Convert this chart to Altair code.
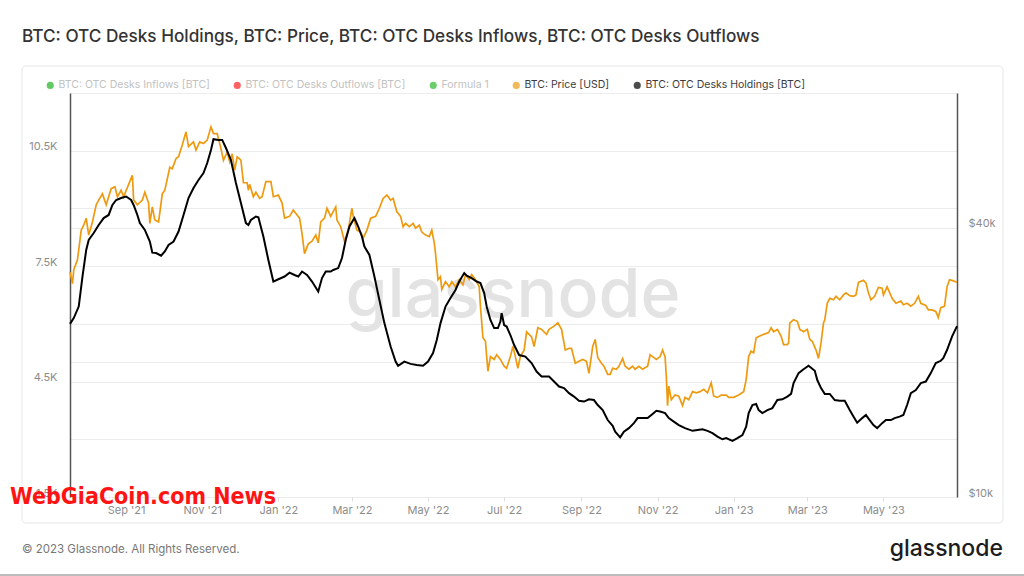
import json
import altair as alt
import pandas as pd

TITLE = "BTC: OTC Desks Holdings, BTC: Price, BTC: OTC Desks Inflows, BTC: OTC Desks Outflows"
COPYRIGHT = "© 2023 Glassnode. All Rights Reserved."
BRAND = "glassnode"
OVERLAY = "WebGiaCoin.com News"

SERIES = [
    "BTC: OTC Desks Inflows [BTC]",
    "BTC: OTC Desks Outflows [BTC]",
    "Formula 1",
    "BTC: Price [USD]",
    "BTC: OTC Desks Holdings [BTC]",
]
SERIES_COLORS = ["#1fb31f", "#ff2020", "#2db82d", "#ee9a10", "#000000"]
ACTIVE_SERIES = ["BTC: Price [USD]", "BTC: OTC Desks Holdings [BTC]"]

X_TICKS = [(2021, 9), (2021, 11), (2022, 1), (2022, 3), (2022, 5), (2022, 7),
           (2022, 9), (2022, 11), (2023, 1), (2023, 3), (2023, 5)]
HOLDINGS_TICKS = [1500, 3000, 4500, 6000, 7500, 9000, 10500, 12000]
PRICE_TICKS = [10000, 20000, 40000, 80000]

holdings_dates = [
    "2021-07-18", "2021-07-21", "2021-07-25", "2021-07-28", "2021-07-31", "2021-08-02",
    "2021-08-06", "2021-08-10", "2021-08-14", "2021-08-18", "2021-08-21", "2021-08-24",
    "2021-08-28", "2021-09-01", "2021-09-05", "2021-09-07", "2021-09-10", "2021-09-12",
    "2021-09-16", "2021-09-20", "2021-09-22", "2021-09-25", "2021-09-29", "2021-10-02",
    "2021-10-05", "2021-10-09", "2021-10-13", "2021-10-17", "2021-10-21", "2021-10-25",
    "2021-10-29", "2021-11-02", "2021-11-05", "2021-11-08", "2021-11-10", "2021-11-14",
    "2021-11-17", "2021-11-20", "2021-11-24", "2021-11-28", "2021-12-02", "2021-12-06",
    "2021-12-08", "2021-12-10", "2021-12-14", "2021-12-16", "2021-12-20", "2021-12-24",
    "2021-12-28", "2022-01-01", "2022-01-06", "2022-01-10", "2022-01-14", "2022-01-17",
    "2022-01-20", "2022-01-24", "2022-01-28", "2022-02-02", "2022-02-05", "2022-02-08",
    "2022-02-12", "2022-02-14", "2022-02-18", "2022-02-21", "2022-02-24", "2022-02-27",
    "2022-03-02", "2022-03-03", "2022-03-06", "2022-03-09", "2022-03-11", "2022-03-15",
    "2022-03-19", "2022-03-23", "2022-03-27", "2022-04-01", "2022-04-05", "2022-04-07",
    "2022-04-12", "2022-04-17", "2022-04-22", "2022-04-27", "2022-05-01", "2022-05-05",
    "2022-05-08", "2022-05-11", "2022-05-15", "2022-05-19", "2022-05-23", "2022-05-26",
    "2022-05-30", "2022-06-01", "2022-06-05", "2022-06-09", "2022-06-12", "2022-06-15",
    "2022-06-17", "2022-06-20", "2022-06-23", "2022-06-26", "2022-06-28", "2022-06-29",
    "2022-07-01", "2022-07-03", "2022-07-06", "2022-07-09", "2022-07-13", "2022-07-18",
    "2022-07-23", "2022-07-27", "2022-07-31", "2022-08-06", "2022-08-10", "2022-08-14",
    "2022-08-18", "2022-08-22", "2022-08-26", "2022-08-30", "2022-09-03", "2022-09-07",
    "2022-09-11", "2022-09-14", "2022-09-18", "2022-09-22", "2022-09-26", "2022-09-28",
    "2022-10-02", "2022-10-05", "2022-10-09", "2022-10-13", "2022-10-16", "2022-10-20",
    "2022-10-24", "2022-10-28", "2022-10-31", "2022-11-03", "2022-11-07", "2022-11-10",
    "2022-11-14", "2022-11-18", "2022-11-23", "2022-11-29", "2022-12-03", "2022-12-07",
    "2022-12-11", "2022-12-15", "2022-12-19", "2022-12-23", "2022-12-26", "2022-12-31",
    "2023-01-04", "2023-01-08", "2023-01-11", "2023-01-13", "2023-01-16", "2023-01-19",
    "2023-01-21", "2023-01-24", "2023-01-28", "2023-02-01", "2023-02-05", "2023-02-09",
    "2023-02-13", "2023-02-16", "2023-02-18", "2023-02-22", "2023-02-26", "2023-03-02",
    "2023-03-07", "2023-03-09", "2023-03-12", "2023-03-15", "2023-03-19", "2023-03-23",
    "2023-03-27", "2023-03-31", "2023-04-04", "2023-04-07", "2023-04-10", "2023-04-14",
    "2023-04-17", "2023-04-20", "2023-04-23", "2023-04-26", "2023-04-30", "2023-05-03",
    "2023-05-07", "2023-05-10", "2023-05-14", "2023-05-17", "2023-05-20", "2023-05-23",
    "2023-05-27", "2023-05-31", "2023-06-04", "2023-06-08", "2023-06-12", "2023-06-16",
    "2023-06-18", "2023-06-21", "2023-06-25", "2023-06-29",
]
holdings_values = [
    6000, 6150, 6450, 7230, 7920, 8180,
    8360, 8570, 8750, 8830, 9090, 9220,
    9270, 9310, 9220, 9090, 8830, 8620,
    8440, 8140, 7850, 7840, 7770, 7880,
    8050, 8140, 8400, 8830, 9270, 9530,
    9740, 9920, 10180, 10520, 10800, 10780,
    10780, 10570, 10260, 9660, 9140, 8620,
    8570, 8700, 8790, 8770, 8270, 7660,
    7100, 7160, 7230, 7330, 7270, 7230,
    7360, 7270, 7100, 6840, 7190, 7360,
    7360, 7400, 7450, 7710, 8180, 8530,
    8700, 8750, 8530, 8270, 8010, 7790,
    7230, 6620, 6020, 5410, 5020, 4910,
    5020, 4960, 4930, 4910, 5020, 5240,
    5580, 6020, 6450, 6670, 6880, 7100,
    7320, 7250, 7190, 7100, 7060, 6800,
    6450, 6100, 5890, 5890, 6060, 6280,
    5970, 5930, 5710, 5450, 5190, 5150,
    4980, 4760, 4630, 4630, 4500, 4370,
    4330, 4200, 4110, 4000, 3980, 4040,
    4020, 3890, 3760, 3500, 3350, 3200,
    3050, 3200, 3290, 3420, 3550, 3550,
    3550, 3660, 3740, 3720, 3680, 3550,
    3460, 3370, 3290, 3220, 3240, 3260,
    3220, 3160, 3070, 3000, 3030, 2960,
    3030, 3110, 3330, 3680, 3890, 3920,
    3760, 3680, 3760, 3810, 4020, 4040,
    4110, 4180, 4460, 4720, 4820, 4910,
    4780, 4540, 4330, 4180, 4180, 4020,
    4000, 4000, 3760, 3590, 3430, 3550,
    3630, 3500, 3370, 3290, 3420, 3500,
    3500, 3550, 3590, 3630, 3890, 4200,
    4280, 4460, 4500, 4720, 4980, 5040,
    5110, 5320, 5670, 5940,
]

price_dates = [
    "2021-07-18", "2021-07-20", "2021-07-21", "2021-07-24", "2021-07-27", "2021-07-29",
    "2021-07-31", "2021-08-02", "2021-08-05", "2021-08-08", "2021-08-10", "2021-08-13",
    "2021-08-16", "2021-08-20", "2021-08-23", "2021-08-25", "2021-08-28", "2021-08-30",
    "2021-09-03", "2021-09-06", "2021-09-07", "2021-09-10", "2021-09-14", "2021-09-16",
    "2021-09-19", "2021-09-20", "2021-09-22", "2021-09-24", "2021-09-27", "2021-09-30",
    "2021-10-02", "2021-10-06", "2021-10-08", "2021-10-11", "2021-10-13", "2021-10-16",
    "2021-10-19", "2021-10-21", "2021-10-25", "2021-10-27", "2021-10-30", "2021-11-02",
    "2021-11-05", "2021-11-08", "2021-11-10", "2021-11-13", "2021-11-16", "2021-11-18",
    "2021-11-21", "2021-11-23", "2021-11-25", "2021-11-27", "2021-11-29", "2021-12-02",
    "2021-12-04", "2021-12-07", "2021-12-08", "2021-12-09", "2021-12-12", "2021-12-14",
    "2021-12-17", "2021-12-19", "2021-12-22", "2021-12-26", "2021-12-28", "2022-01-01",
    "2022-01-04", "2022-01-06", "2022-01-10", "2022-01-13", "2022-01-16", "2022-01-18",
    "2022-01-20", "2022-01-22", "2022-01-25", "2022-01-28", "2022-01-31", "2022-02-02",
    "2022-02-04", "2022-02-07", "2022-02-09", "2022-02-12", "2022-02-16", "2022-02-17",
    "2022-02-20", "2022-02-23", "2022-02-26", "2022-03-01", "2022-03-02", "2022-03-05",
    "2022-03-08", "2022-03-10", "2022-03-13", "2022-03-16", "2022-03-20", "2022-03-23",
    "2022-03-26", "2022-03-29", "2022-04-01", "2022-04-03", "2022-04-06", "2022-04-09",
    "2022-04-11", "2022-04-13", "2022-04-16", "2022-04-19", "2022-04-21", "2022-04-24",
    "2022-04-26", "2022-04-29", "2022-05-02", "2022-05-04", "2022-05-06", "2022-05-07",
    "2022-05-09", "2022-05-11", "2022-05-12", "2022-05-15", "2022-05-18", "2022-05-20",
    "2022-05-23", "2022-05-26", "2022-05-29", "2022-05-31", "2022-06-03", "2022-06-05",
    "2022-06-08", "2022-06-11", "2022-06-12", "2022-06-14", "2022-06-16", "2022-06-18",
    "2022-06-20", "2022-06-23", "2022-06-25", "2022-06-28", "2022-07-01", "2022-07-03",
    "2022-07-06", "2022-07-08", "2022-07-10", "2022-07-12", "2022-07-14", "2022-07-17",
    "2022-07-19", "2022-07-23", "2022-07-25", "2022-07-28", "2022-07-31", "2022-08-04",
    "2022-08-06", "2022-08-10", "2022-08-13", "2022-08-16", "2022-08-19", "2022-08-22",
    "2022-08-24", "2022-08-27", "2022-08-30", "2022-09-02", "2022-09-05", "2022-09-07",
    "2022-09-10", "2022-09-12", "2022-09-14", "2022-09-17", "2022-09-19", "2022-09-22",
    "2022-09-24", "2022-09-26", "2022-09-29", "2022-10-01", "2022-10-04", "2022-10-06",
    "2022-10-09", "2022-10-12", "2022-10-14", "2022-10-17", "2022-10-20", "2022-10-24",
    "2022-10-26", "2022-10-28", "2022-10-31", "2022-11-03", "2022-11-05", "2022-11-07",
    "2022-11-08", "2022-11-09", "2022-11-10", "2022-11-12", "2022-11-15", "2022-11-18",
    "2022-11-21", "2022-11-23", "2022-11-26", "2022-11-29", "2022-12-02", "2022-12-05",
    "2022-12-08", "2022-12-11", "2022-12-14", "2022-12-16", "2022-12-19", "2022-12-22",
    "2022-12-26", "2022-12-28", "2023-01-01", "2023-01-05", "2023-01-09", "2023-01-11",
    "2023-01-13", "2023-01-15", "2023-01-17", "2023-01-19", "2023-01-22", "2023-01-25",
    "2023-01-29", "2023-01-31", "2023-02-02", "2023-02-05", "2023-02-08", "2023-02-10",
    "2023-02-13", "2023-02-14", "2023-02-15", "2023-02-18", "2023-02-21", "2023-02-23",
    "2023-02-26", "2023-03-01", "2023-03-03", "2023-03-05", "2023-03-08", "2023-03-10",
    "2023-03-12", "2023-03-14", "2023-03-15", "2023-03-17", "2023-03-19", "2023-03-22",
    "2023-03-24", "2023-03-27", "2023-03-30", "2023-04-01", "2023-04-04", "2023-04-07",
    "2023-04-09", "2023-04-11", "2023-04-15", "2023-04-17", "2023-04-19", "2023-04-21",
    "2023-04-24", "2023-04-27", "2023-04-30", "2023-05-01", "2023-05-04", "2023-05-08",
    "2023-05-11", "2023-05-15", "2023-05-17", "2023-05-20", "2023-05-23", "2023-05-26",
    "2023-05-29", "2023-05-31", "2023-06-04", "2023-06-06", "2023-06-09", "2023-06-12",
    "2023-06-14", "2023-06-16", "2023-06-19", "2023-06-21", "2023-06-23", "2023-06-25",
    "2023-06-29",
]
price_values = [
    31800, 30000, 32200, 33900, 39500, 40500,
    42000, 38500, 41200, 45000, 46100, 47600,
    45000, 48900, 49400, 46900, 48500, 46900,
    50000, 52400, 46100, 45000, 46100, 48000,
    45400, 40900, 44500, 41600, 41200, 47600,
    48500, 54600, 54200, 57100, 57600, 61200,
    65500, 60700, 62200, 59600, 62200, 61700,
    62800, 67200, 64900, 64900, 60100, 56600,
    59000, 56100, 58500, 53800, 57600, 56600,
    50400, 50400, 48500, 50000, 46900, 48000,
    46500, 46900, 50700, 50700, 46900, 47300,
    45400, 42000, 42400, 43800, 42700, 42000,
    38800, 35000, 36800, 37300, 38500, 37000,
    41200, 42000, 44200, 42400, 44500, 41600,
    40200, 37300, 39500, 44200, 42400, 39500,
    39100, 37900, 39500, 42000, 42400, 44200,
    46500, 47300, 46100, 46500, 43400, 42400,
    40200, 40900, 40200, 40900, 39900, 40500,
    39100, 38500, 38200, 39500, 37000, 35000,
    30600, 31100, 29100, 30300, 29500, 30300,
    29500, 30600, 29800, 31400, 30600, 31400,
    30600, 29500, 26700, 22700, 22300, 19100,
    20600, 20300, 20800, 20300, 19600, 19400,
    20600, 21700, 20600, 19400, 20600, 21300,
    23400, 22800, 21700, 23900, 23700, 23100,
    23700, 24100, 24500, 23700, 21300, 21500,
    21500, 19900, 20100, 20300, 20100, 18900,
    21700, 22500, 20500, 19900, 19600, 18800,
    18800, 19400, 19300, 19600, 20400, 19600,
    19300, 19600, 19300, 19600, 19300, 19600,
    20800, 20600, 20300, 20600, 21300, 20600,
    18600, 16000, 17700, 16500, 16900, 16800,
    16000, 16700, 16500, 17200, 17100, 17200,
    17400, 17100, 18000, 16800, 16700, 16900,
    16900, 16700, 16700, 16900, 17200, 18300,
    20600, 21200, 21000, 22700, 22900, 23100,
    23300, 23900, 23400, 23700, 22900, 21900,
    21900, 22100, 24500, 24900, 24700, 23700,
    23400, 23700, 22500, 22300, 21300, 20400,
    22100, 24500, 24900, 27100, 27800, 27600,
    28100, 27600, 28300, 28600, 28200, 28100,
    28300, 30200, 30500, 30100, 28600, 27600,
    28100, 29400, 29300, 28300, 29500, 27800,
    27100, 27400, 26900, 27100, 26700, 27100,
    28100, 27100, 26800, 26200, 26200, 26000,
    25200, 26500, 26700, 29500, 30600, 30500,
    30200,
]

FONT = "Inter"
LABEL_GREY = "#8c8c8c"
GRID_GREY = "#ececec"


def dt(y, m, d=1):
    return alt.DateTime(year=y, month=m, date=d, utc=True)


holdings_df = pd.DataFrame({"date": holdings_dates, "holdings": holdings_values})
price_df = pd.DataFrame({"date": price_dates, "price": price_values})

x_scale = alt.Scale(type="utc", domain=[dt(2021, 7, 18), dt(2023, 6, 29)])
x_axis = alt.Axis(
    values=[dt(y, m) for y, m in X_TICKS], format="%b '%y", title=None,
    grid=False, domain=False, ticks=True, tickColor="#dddddd", tickSize=4,
    labelPadding=3, labelColor=LABEL_GREY, labelFontSize=11, labelFont=FONT,
)

holdings_line = alt.Chart(holdings_df).mark_line(color="#000000", strokeWidth=2).encode(
    x=alt.X("date:T", scale=x_scale, axis=x_axis),
    y=alt.Y(
        "holdings:Q",
        scale=alt.Scale(domain=[1500, 12000], nice=False, zero=False),
        axis=alt.Axis(
            orient="left", values=HOLDINGS_TICKS, title=None,
            labelExpr="datum.value % 3000 == 1500 ? format(datum.value / 1000, '.1f') + 'K' : ''",
            grid=True, gridColor=GRID_GREY, domain=True, domainColor="#555555", domainWidth=1.5,
            ticks=False, tickSize=0, labelPadding=13, labelOffset=-4,
            labelColor=LABEL_GREY, labelFontSize=11, labelFont=FONT,
        ),
    ),
)

price_line = alt.Chart(price_df).mark_line(color="#ee9a10", strokeWidth=1.7).encode(
    x=alt.X("date:T", scale=x_scale, axis=x_axis),
    y=alt.Y(
        "price:Q",
        scale=alt.Scale(type="log", domain=[10000, 80000], nice=False),
        axis=alt.Axis(
            orient="right", values=PRICE_TICKS, title=None,
            labelExpr="datum.value == 10000 || datum.value == 40000 ? '$' + (datum.value / 1000) + 'k' : ''",
            grid=True, gridColor=GRID_GREY, domain=True, domainColor="#555555", domainWidth=1.5,
            ticks=False, tickSize=0, labelPadding=11, labelOffset=-4,
            labelColor=LABEL_GREY, labelFontSize=11, labelFont=FONT,
        ),
    ),
)

legend_label_expr = (
    "indexof(" + json.dumps(ACTIVE_SERIES) + ", datum.label) >= 0 ? '#3c3c3c' : '#c2c2c2'"
)
legend_layer = alt.Chart(pd.DataFrame({"series": pd.Series([], dtype="object")})).mark_point(
    filled=True, size=45
).encode(
    color=alt.Color(
        "series:N",
        scale=alt.Scale(domain=SERIES, range=SERIES_COLORS),
        legend=alt.Legend(
            title=None, orient="none", legendX=-25, legendY=-13, direction="horizontal",
            symbolType="circle", symbolSize=50, symbolStrokeWidth=0,
            labelFont=FONT, labelFontSize=10.5, labelOffset=3, columnPadding=22,
            labelLimit=400, labelColor={"expr": legend_label_expr}, padding=0,
        ),
    )
)


def text_layer(text, x, y, **kw):
    return alt.Chart(pd.DataFrame({"t": [text]})).mark_text(**kw).encode(
        text="t:N", x=alt.value(x), y=alt.value(y)
    )


frame = alt.Chart(pd.DataFrame({"f": [1]})).mark_rect(
    fillOpacity=0, stroke="#e6e6e6", strokeWidth=1, cornerRadius=4
).encode(x=alt.value(-48), x2=alt.value(933), y=alt.value(-27), y2=alt.value(430))

bottom_rule = alt.Chart(pd.DataFrame({"f": [1]})).mark_rule(color="#bdbdbd", strokeWidth=2).encode(
    x=alt.value(-70), x2=alt.value(954), y=alt.value(482)
)

watermark = text_layer(BRAND, 443, 204, align="center", baseline="middle", font=FONT,
                       fontSize=68, fontWeight=500, color="#e3e3e3")
title = text_layer(TITLE, -48, -56, align="left", baseline="middle", font=FONT,
                   fontSize=17.2, fontWeight=500, color="#333333")
copyright_t = text_layer(COPYRIGHT, -48, 457, align="left", baseline="middle", font=FONT,
                         fontSize=11.5, color="#777777")
brand_t = text_layer(BRAND, 933, 456, align="right", baseline="middle", font=FONT,
                     fontSize=23, fontWeight=500, color="#1c1c1c")
overlay_t = text_layer(OVERLAY, -60, 404, align="left", baseline="middle",
                       font="DejaVu Sans Condensed", fontSize=23, fontWeight="bold",
                       color="#ff1414")

chart = alt.layer(
    frame, bottom_rule, watermark, price_line, holdings_line, legend_layer,
    title, copyright_t, brand_t, overlay_t,
).resolve_scale(y="independent").properties(
    width=887, height=404,
    autosize=alt.AutoSizeParams(type="none"),
    padding={"left": 70, "top": 93, "right": 67, "bottom": 79},
).configure(background="white").configure_view(strokeWidth=0)

chart.save("out.html", embed_options={"renderer": "svg", "actions": False})
